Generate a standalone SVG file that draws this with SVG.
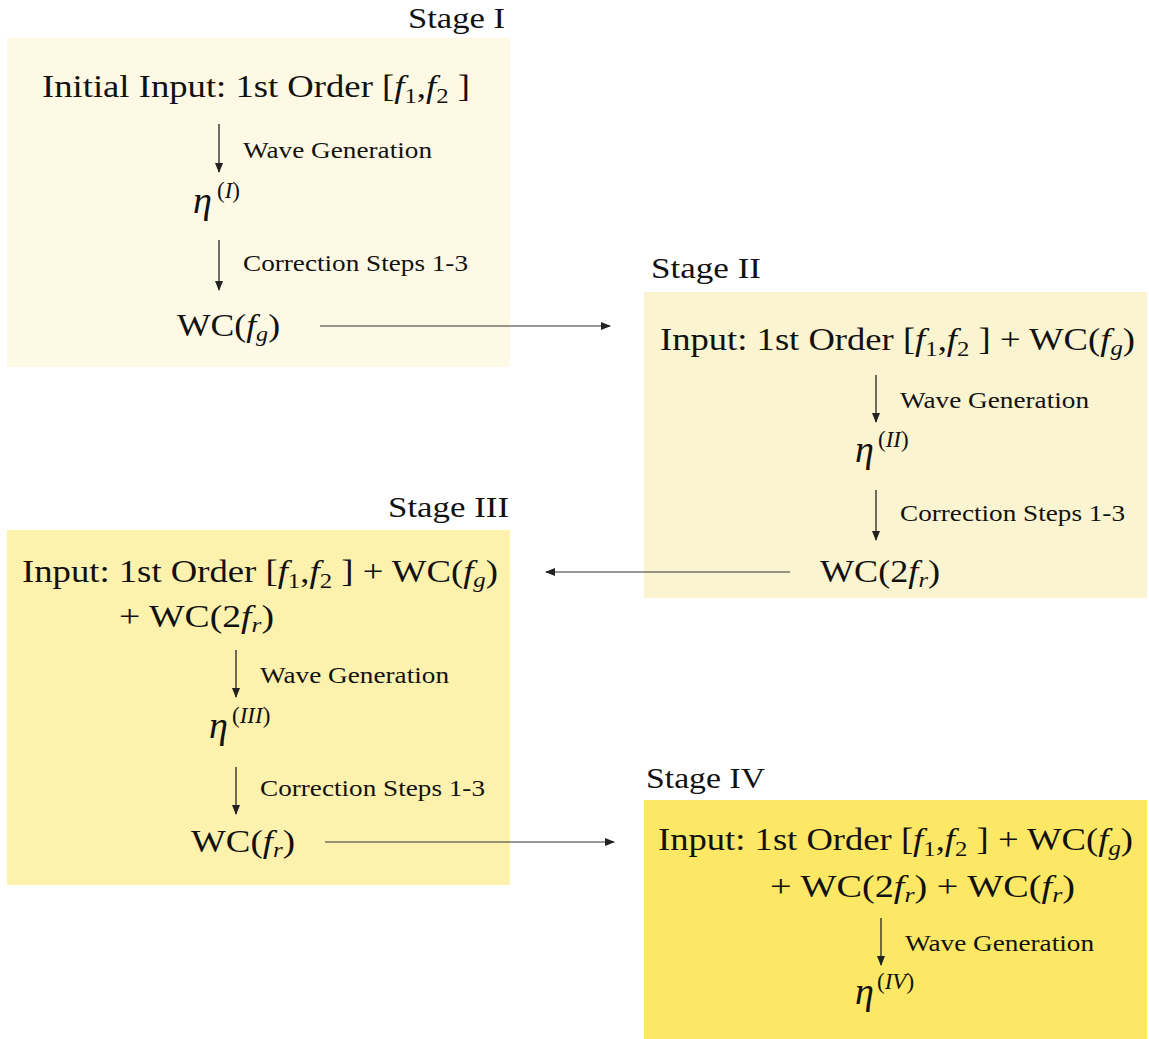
<svg xmlns="http://www.w3.org/2000/svg" width="1149" height="1039" viewBox="0 0 1149 1039">
<style>
text{font-family:"Liberation Serif","DejaVu Serif",serif;fill:#111}
.m{font-size:31px}
.s{font-size:23px}
.st{font-size:29px}
.i{font-style:italic}
.sub{font-size:21px}
.sup{font-size:23px}
.eta{font-size:38px;font-style:italic}
.ln{stroke:#222;stroke-width:1.3;fill:none}
.cn{stroke:#333;stroke-width:1.2;fill:none}
</style>
<defs>
<marker id="ah" markerWidth="10" markerHeight="10" refX="9" refY="5" orient="auto" markerUnits="userSpaceOnUse" viewBox="0 0 10 10">
<path d="M0,1 L10,5 L0,9 Z" fill="#222"/>
</marker>
</defs>
<g id="stage1">
<rect x="7" y="38" width="503" height="329" fill="#fef9e4"/>
<text class="st" x="408" y="28" textLength="97" lengthAdjust="spacingAndGlyphs">Stage I</text>
<text class="m" x="42" y="97" textLength="428" lengthAdjust="spacingAndGlyphs">Initial Input:  1st Order [<tspan class="i">f</tspan><tspan class="sub" dy="6">1</tspan><tspan dy="-6">,</tspan><tspan class="i">f</tspan><tspan class="sub" dy="6">2</tspan><tspan dy="-6"> ]</tspan></text>
<line class="ln" x1="219" y1="124" x2="219" y2="172" marker-end="url(#ah)"/>
<text class="s" x="243" y="158" textLength="189" lengthAdjust="spacingAndGlyphs">Wave Generation</text>
<text class="m" x="193" y="213"><tspan class="eta">η</tspan><tspan class="sup" x="217" dy="-15">(<tspan class="i">I</tspan>)</tspan></text>
<line class="ln" x1="219" y1="240" x2="219" y2="290" marker-end="url(#ah)"/>
<text class="s" x="243" y="271" textLength="225" lengthAdjust="spacingAndGlyphs">Correction Steps 1-3</text>
<text class="m" x="177" y="336" textLength="103" lengthAdjust="spacingAndGlyphs">WC(<tspan class="i">f</tspan><tspan class="sub i" dy="5">g</tspan><tspan dy="-5">)</tspan></text>
</g>
<g id="stage2">
<rect x="644" y="292" width="503" height="306" fill="#fbf4d0"/>
<text class="st" x="651" y="278" textLength="110" lengthAdjust="spacingAndGlyphs">Stage II</text>
<text class="m" x="660" y="350" textLength="475" lengthAdjust="spacingAndGlyphs">Input: 1st Order [<tspan class="i">f</tspan><tspan class="sub" dy="6">1</tspan><tspan dy="-6">,</tspan><tspan class="i">f</tspan><tspan class="sub" dy="6">2</tspan><tspan dy="-6"> ] + WC(</tspan><tspan class="i">f</tspan><tspan class="sub i" dy="5">g</tspan><tspan dy="-5">)</tspan></text>
<line class="ln" x1="876" y1="375" x2="876" y2="422" marker-end="url(#ah)"/>
<text class="s" x="900" y="408" textLength="189" lengthAdjust="spacingAndGlyphs">Wave Generation</text>
<text class="m" x="855" y="462"><tspan class="eta">η</tspan><tspan class="sup" x="878" dy="-15">(<tspan class="i">II</tspan>)</tspan></text>
<line class="ln" x1="876" y1="490" x2="876" y2="540" marker-end="url(#ah)"/>
<text class="s" x="900" y="521" textLength="225" lengthAdjust="spacingAndGlyphs">Correction Steps 1-3</text>
<text class="m" x="820" y="582" textLength="120" lengthAdjust="spacingAndGlyphs">WC(2<tspan class="i">f</tspan><tspan class="sub i" dy="5">r</tspan><tspan dy="-5">)</tspan></text>
</g>
<g id="stage3">
<rect x="7" y="530" width="503" height="355" fill="#fdf1ae"/>
<text class="st" x="388" y="517" textLength="121" lengthAdjust="spacingAndGlyphs">Stage III</text>
<text class="m" x="22" y="582" textLength="476" lengthAdjust="spacingAndGlyphs">Input: 1st Order [<tspan class="i">f</tspan><tspan class="sub" dy="6">1</tspan><tspan dy="-6">,</tspan><tspan class="i">f</tspan><tspan class="sub" dy="6">2</tspan><tspan dy="-6"> ] + WC(</tspan><tspan class="i">f</tspan><tspan class="sub i" dy="5">g</tspan><tspan dy="-5">)</tspan></text>
<text class="m" x="119" y="627" textLength="155" lengthAdjust="spacingAndGlyphs">+ WC(2<tspan class="i">f</tspan><tspan class="sub i" dy="5">r</tspan><tspan dy="-5">)</tspan></text>
<line class="ln" x1="236" y1="650" x2="236" y2="697" marker-end="url(#ah)"/>
<text class="s" x="260" y="683" textLength="189" lengthAdjust="spacingAndGlyphs">Wave Generation</text>
<text class="m" x="209" y="738"><tspan class="eta">η</tspan><tspan class="sup" x="232" dy="-15">(<tspan class="i">III</tspan>)</tspan></text>
<line class="ln" x1="236" y1="767" x2="236" y2="814" marker-end="url(#ah)"/>
<text class="s" x="260" y="796" textLength="225" lengthAdjust="spacingAndGlyphs">Correction Steps 1-3</text>
<text class="m" x="191" y="852" textLength="104" lengthAdjust="spacingAndGlyphs">WC(<tspan class="i">f</tspan><tspan class="sub i" dy="5">r</tspan><tspan dy="-5">)</tspan></text>
</g>
<g id="stage4">
<rect x="644" y="800" width="503" height="239" fill="#fde866"/>
<text class="st" x="646" y="788" textLength="119" lengthAdjust="spacingAndGlyphs">Stage IV</text>
<text class="m" x="658" y="850" textLength="475" lengthAdjust="spacingAndGlyphs">Input: 1st Order [<tspan class="i">f</tspan><tspan class="sub" dy="6">1</tspan><tspan dy="-6">,</tspan><tspan class="i">f</tspan><tspan class="sub" dy="6">2</tspan><tspan dy="-6"> ] + WC(</tspan><tspan class="i">f</tspan><tspan class="sub i" dy="5">g</tspan><tspan dy="-5">)</tspan></text>
<text class="m" x="770" y="897" textLength="305" lengthAdjust="spacingAndGlyphs">+ WC(2<tspan class="i">f</tspan><tspan class="sub i" dy="5">r</tspan><tspan dy="-5">) + WC(</tspan><tspan class="i">f</tspan><tspan class="sub i" dy="5">r</tspan><tspan dy="-5">)</tspan></text>
<line class="ln" x1="881" y1="918" x2="881" y2="965" marker-end="url(#ah)"/>
<text class="s" x="905" y="951" textLength="189" lengthAdjust="spacingAndGlyphs">Wave Generation</text>
<text class="m" x="855" y="1004"><tspan class="eta">η</tspan><tspan class="sup" x="877" dy="-15">(<tspan class="i">IV</tspan>)</tspan></text>
</g>
<g id="connectors">
<line class="cn" x1="320" y1="326" x2="610" y2="326" marker-end="url(#ah)"/>
<line class="cn" x1="790" y1="572" x2="546" y2="572" marker-end="url(#ah)"/>
<line class="cn" x1="325" y1="842" x2="614" y2="842" marker-end="url(#ah)"/>
</g>
</svg>
